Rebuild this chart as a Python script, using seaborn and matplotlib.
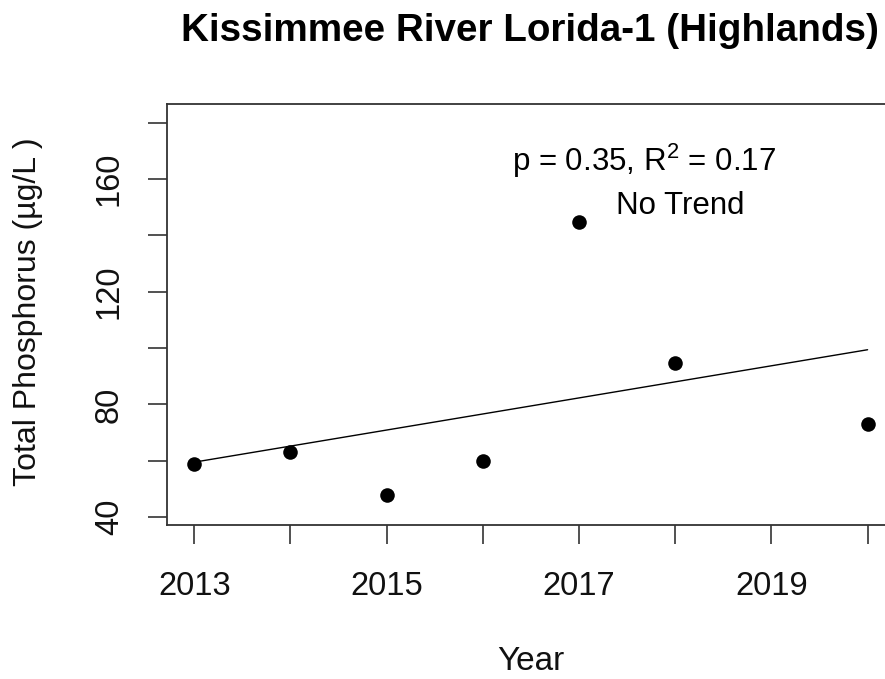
import matplotlib
matplotlib.use("Agg")
import matplotlib.pyplot as plt
import seaborn as sns
import pandas as pd

# values
years = [2013, 2014, 2015, 2016, 2017, 2018, 2020]
phosphorus = [58.7, 63.0, 47.8, 60.0, 144.8, 94.6, 73.0]

x_ticks = [2013, 2014, 2015, 2016, 2017, 2018, 2019, 2020]
x_labels = ["2013", "", "2015", "", "2017", "", "2019", ""]
y_ticks = [40, 60, 80, 100, 120, 140, 160, 180]
y_labels = ["40", "", "80", "", "120", "", "160", ""]

title = "Kissimmee River Lorida-1 (Highlands)"
stats_text = "p = 0.35, R$^2$ = 0.17"
trend_text = "No Trend"

df = pd.DataFrame({"Year": years, "TP": phosphorus})

sns.set_style("ticks")
plt.rcParams["font.family"] = ["Liberation Sans", "DejaVu Sans"]
plt.rcParams["mathtext.fontset"] = "custom"
plt.rcParams["mathtext.rm"] = "Liberation Sans"
plt.rcParams["text.color"] = "black"

fig = plt.figure(figsize=(8.85, 6.79), dpi=100)
# R-style plot region, cropped on the right like the original
ax = fig.add_axes([0.1884, 0.2268, 0.823, 0.6196])

sns.regplot(data=df, x="Year", y="TP", ax=ax, ci=None, color="black",
            scatter_kws={"s": 110, "linewidths": 0, "alpha": 1, "zorder": 3},
            line_kws={"lw": 1.0, "color": "black"})

ax.set_xlim(2012.714, 2020.286)
ax.set_ylim(37.2, 186.5)
ax.set_xticks(x_ticks)
ax.set_xticklabels(x_labels)
ax.set_yticks(y_ticks)
ax.set_yticklabels(y_labels, rotation=90, va="center")

ax.tick_params(axis="both", direction="out", length=13.7, width=1.2,
               color="#333333", labelsize=23.5, labelcolor="#111111")
ax.tick_params(axis="x", pad=19.4)
ax.tick_params(axis="y", pad=16.5)

for side in ["top", "bottom", "left", "right"]:
    ax.spines[side].set_visible(True)
    ax.spines[side].set_linewidth(1.3)
    ax.spines[side].set_color("#333333")

ax.set_xlabel("Year", fontsize=24, color="#111111", va="baseline")
ax.xaxis.set_label_coords(0.5, -0.345)
ax.set_ylabel("Total Phosphorus (\u00b5g/L )", fontsize=23, color="#111111", va="center")
ax.yaxis.set_label_coords(-0.1904, 0.507)

ax.text(2017.675, 162.9, stats_text, ha="center", va="baseline", fontsize=22.5)
ax.text(2018.05, 147.5, trend_text, ha="center", va="baseline", fontsize=22.5)

fig.text(0.599, 1 - 40.7 / 679, title, ha="center", va="baseline",
         fontsize=27.8, fontweight="bold")

fig.savefig("out.png", dpi=100)
